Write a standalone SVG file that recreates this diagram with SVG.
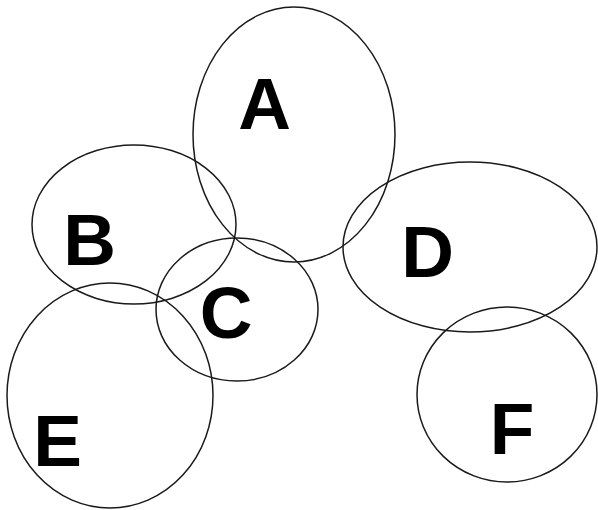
<svg xmlns="http://www.w3.org/2000/svg" width="598" height="510" viewBox="0 0 598 510">
<style>
.s{fill:none;stroke:#1a1a1a;stroke-width:1.5}
.t{font-family:"Liberation Sans",Arial,sans-serif;font-weight:bold;font-size:73px;fill:#000;text-anchor:middle}
</style>
<rect width="598" height="510" fill="#fff"/>
<g id="A"><ellipse class="s" cx="294" cy="134.5" rx="101" ry="127.5"/><text class="t" x="264.5" y="129">A</text></g>
<g id="B"><ellipse class="s" cx="134" cy="224.5" rx="102" ry="79.5"/><text class="t" x="89.5" y="265">B</text></g>
<g id="C"><ellipse class="s" cx="237" cy="309.5" rx="81" ry="71.5"/><text class="t" x="226" y="338">C</text></g>
<g id="D"><ellipse class="s" cx="470" cy="247" rx="127" ry="85"/><text class="t" x="427.5" y="277">D</text></g>
<g id="E"><ellipse class="s" cx="110" cy="395.5" rx="103" ry="112.5"/><text class="t" x="57.5" y="466">E</text></g>
<g id="F"><ellipse class="s" cx="507" cy="394.5" rx="90" ry="87.5"/><text class="t" x="512" y="454">F</text></g>
<g id="connectors"></g>
</svg>
